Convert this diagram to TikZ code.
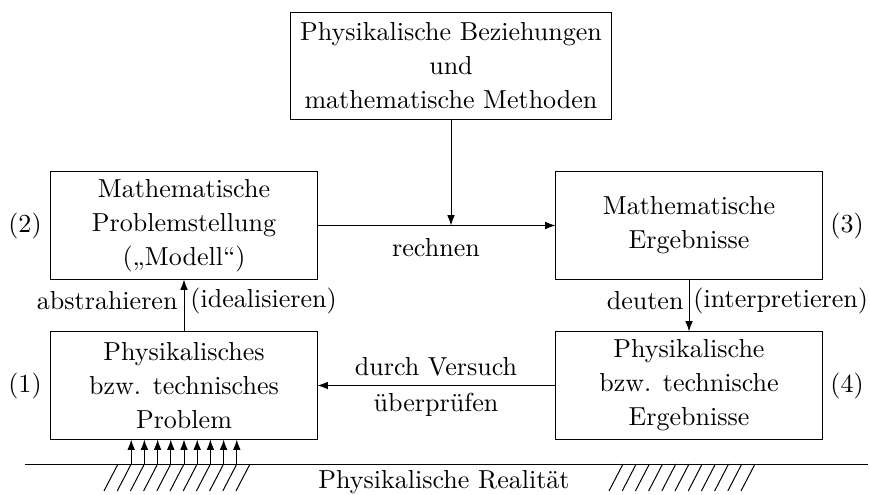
\documentclass[tikz,border=0pt]{standalone}
\usetikzlibrary{arrows.meta}
\begin{document}
\begin{tikzpicture}[x=0.365pt,y=-0.365pt, line width=0.36pt,
  box/.style={draw, minimum width=97.1pt, minimum height=39.1pt, align=center, inner sep=0pt, font=\fontsize{9.5}{12.4}\selectfont},
  topbox/.style={draw, minimum width=117.5pt, minimum height=39.4pt, align=center, inner sep=0pt, font=\fontsize{9.5}{12.4}\selectfont},
  arr/.style={-{Latex[length=3.8pt,width=2.8pt]}},
  lbl/.style={inner sep=0pt, font=\fontsize{9.5}{12}\selectfont}]
\useasboundingbox (0,0) rectangle (870,495);
% boxes
\node[topbox] (top) at (451,66) {Physikalische Beziehungen\\und\\mathematische Methoden};
\node[box] (b2) at (184,225.5) {Mathematische\\Problemstellung\\(„Modell“)};
\node[box] (b3) at (689,225.5) {Mathematische\\Ergebnisse};
\node[box] (b1) at (184,385.5) {Physikalisches\\bzw. technisches\\Problem};
\node[box] (b4) at (689,385.5) {Physikalische\\bzw. technische\\Ergebnisse};
% side labels
\node[lbl] (l2) at (25,226) {(2)};
\node[lbl] (l3) at (847,226) {(3)};
\node[lbl] (l1) at (25,386) {(1)};
\node[lbl] (l4) at (847,386) {(4)};
% connectors
\draw[arr] (b2.east) -- (b3.west);
\coordinate (j) at (top.south |- b2.east);
\draw[arr] (top.south) -- (j);
\node[lbl] (rechnen) at (436,248) {rechnen};
\draw[arr] (b1.north) -- (b2.south);
\node[lbl, anchor=east] (abs) at (178,301) {abstrahieren};
\node[lbl, anchor=west] (ide) at (190,301) {(idealisieren)};
\draw[arr] (b3.south) -- (b4.north);
\node[lbl, anchor=east] (deu) at (684,301) {deuten};
\node[lbl, anchor=west] (int) at (693,301) {(interpretieren)};
\draw[arr] (b4.west) -- (b1.east);
\node[lbl] (dv) at (436,367) {durch Versuch};
\node[lbl] (ub) at (436,405) {überprüfen};
% ground
\coordinate (gl) at (25,464);
\coordinate (gr) at (868,464);
\draw (gl) -- (gr);
\foreach \k in {-4,...,4} {
  \path (b1.south) ++(\k*13.2,0) coordinate (t\k);
  \draw[arr] (t\k |- gl) -- (t\k);
}
\foreach \k in {-5,...,5} {
  \draw (184+\k*13.2,464) -- ++(-14,27);
  \draw (689+\k*13.2,464) -- ++(-14,27);
}
\node[lbl] (real) at (444,482) {Physikalische Realität};
\end{tikzpicture}
\end{document}
